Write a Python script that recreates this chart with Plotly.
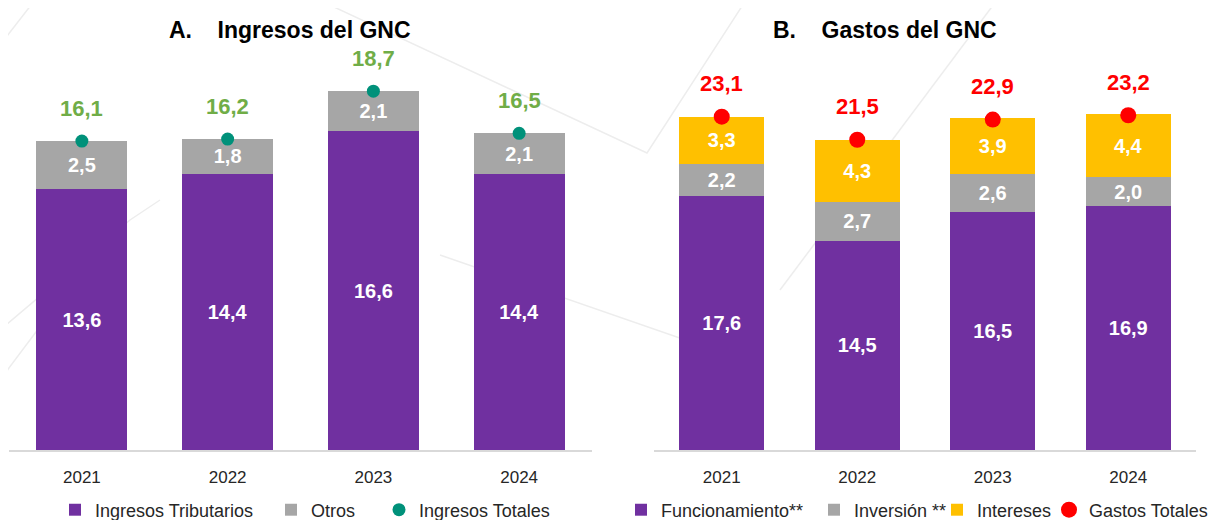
import plotly.graph_objects as go
from plotly.subplots import make_subplots

YEARS = ["2021", "2022", "2023", "2024"]

# A. Ingresos del GNC (% del PIB)
ING_TRIBUTARIOS = [13.6, 14.4, 16.6, 14.4]
ING_OTROS = [2.5, 1.8, 2.1, 2.1]
ING_TOTALES = [16.1, 16.2, 18.7, 16.5]

# B. Gastos del GNC (% del PIB)
GAS_FUNCIONAMIENTO = [17.6, 14.5, 16.5, 16.9]
GAS_INVERSION = [2.2, 2.7, 2.6, 2.0]
GAS_INTERESES = [3.3, 4.3, 3.9, 4.4]
GAS_TOTALES = [23.1, 21.5, 22.9, 23.2]

PURPLE = "#7030A0"
GRAY = "#A6A6A6"
GOLD = "#FFC000"
RED = "#FF0000"
TEAL = "#00917A"
GREEN_TXT = "#70AD47"

FONT = "Liberation Sans, Arial, sans-serif"
W, H = 1217, 520
OFF = 8  # the page body margin shifts the figure by 8px


def px(x):
    return (x - OFF) / W


def py(y):
    return 1 - (y - OFF) / H


def fmt(v):
    return f"{v:.1f}".replace(".", ",")


fig = make_subplots(rows=1, cols=2)


def add_bar(values, name, color, col, legend):
    fig.add_trace(
        go.Bar(
            x=YEARS,
            y=values,
            name=name,
            marker=dict(color=color, line=dict(width=0)),
            texttemplate="%{y:.1f}",
            textposition="inside",
            insidetextanchor="middle",
            textangle=0,
            textfont=dict(family=FONT, size=20, color="white", weight="bold"),
            legend=legend,
            hoverinfo="skip",
        ),
        row=1,
        col=col,
    )


add_bar(ING_TRIBUTARIOS, "Ingresos Tributarios", PURPLE, 1, "legend")
add_bar(ING_OTROS, "Otros", GRAY, 1, "legend2")
fig.add_trace(
    go.Scatter(
        x=YEARS,
        y=ING_TOTALES,
        name="Ingresos Totales",
        mode="markers",
        marker=dict(color=TEAL, size=13),
        legend="legend3",
    ),
    row=1,
    col=1,
)

add_bar(GAS_FUNCIONAMIENTO, "Funcionamiento**", PURPLE, 2, "legend4")
add_bar(GAS_INVERSION, "Inversión **", GRAY, 2, "legend5")
add_bar(GAS_INTERESES, "Intereses", GOLD, 2, "legend6")
fig.add_trace(
    go.Scatter(
        x=YEARS,
        y=GAS_TOTALES,
        name="Gastos Totales",
        mode="markers",
        marker=dict(color=RED, size=16),
        legend="legend7",
    ),
    row=1,
    col=2,
)

# total labels above the markers (category index on the x axis)
for i, v in enumerate(ING_TOTALES):
    fig.add_annotation(
        x=i, y=v, xref="x", yref="y", text=fmt(v), showarrow=False,
        yshift=33, font=dict(family=FONT, size=22, color=GREEN_TXT, weight="bold"),
    )
for i, v in enumerate(GAS_TOTALES):
    fig.add_annotation(
        x=i, y=v, xref="x2", yref="y2", text=fmt(v), showarrow=False,
        yshift=33, font=dict(family=FONT, size=22, color=RED, weight="bold"),
    )

# panel titles
title_font = dict(family=FONT, size=23, color="black", weight="bold")
fig.add_annotation(
    x=px(290), y=py(30), xref="paper", yref="paper", showarrow=False,
    xanchor="center", yanchor="middle",
    text="A.\u00a0\u00a0\u00a0\u00a0Ingresos del GNC", font=title_font,
)
fig.add_annotation(
    x=px(885), y=py(30), xref="paper", yref="paper", showarrow=False,
    xanchor="center", yanchor="middle",
    text="B.\u00a0\u00a0\u00a0\u00a0Gastos del GNC", font=title_font,
)

# faint decorative background lines
deco = [
    [(319, 0), (647, 153), (746, 0)],
    [(0, 45), (35, 0)],
    [(0, 330), (130, 220), (160, 200)],
    [(0, 380), (60, 300)],
    [(440, 255), (700, 345)],
    [(997, 0), (780, 290)],
]
for pts in deco:
    path = "M " + " L ".join(f"{px(x)},{py(y)}" for x, y in pts)
    fig.add_shape(
        type="path", path=path, xref="paper", yref="paper",
        line=dict(color="#EDEDED", width=1.5), layer="below",
    )

y_dom = [py(450), py(18)]
axis_common = dict(
    type="category", range=[-0.5, len(YEARS) - 0.5],
    showline=True, linecolor="#D9D9D9", linewidth=2,
    showgrid=False, zeroline=False, ticks="", ticklabelstandoff=11,
    tickfont=dict(family=FONT, size=17, color="#262626"),
)
fig.update_xaxes(domain=[px(9), px(592)], row=1, col=1, **axis_common)
fig.update_xaxes(domain=[px(654), px(1196)], row=1, col=2, **axis_common)
fig.update_yaxes(visible=False, domain=y_dom, showgrid=False)
fig.update_yaxes(range=[0, (450 - 18) / 19.19], row=1, col=1)
fig.update_yaxes(range=[0, (450 - 18) / 14.43], row=1, col=2)

legend_base = dict(
    orientation="h", yanchor="middle", y=py(510), xanchor="left",
    bgcolor="rgba(0,0,0,0)", font=dict(family=FONT, size=18, color="#262626"),
)
legend_pos = {
    "legend": 75, "legend2": 291, "legend3": 399,
    "legend4": 641, "legend5": 834, "legend6": 957, "legend7": 1069,
}
fig.update_layout(
    **{k: dict(legend_base, x=px(cx - 20)) for k, cx in legend_pos.items()}
)

fig.update_layout(
    width=W,
    height=H,
    barmode="stack",
    bargap=0.375,
    separators=",.",
    plot_bgcolor="white",
    paper_bgcolor="white",
    margin=dict(l=0, r=0, t=0, b=0, autoexpand=False),
    font=dict(family=FONT),
    showlegend=True,
)

fig.write_html("out.html")
